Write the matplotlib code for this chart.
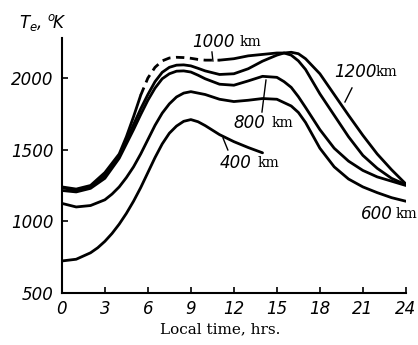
import numpy as np
import matplotlib
matplotlib.use('Agg')
import matplotlib.pyplot as plt

# Local time (hrs) and electron temperature (K)
h_400 = [0, 1, 2, 2.5, 3, 3.5, 4, 4.5, 5, 5.5, 6, 6.5, 7, 7.5, 8, 8.5, 9, 9.5, 10, 11,
         12, 13, 14]
t_400 = [723, 735, 780, 815, 860, 915, 980, 1055, 1140, 1235, 1340, 1445, 1540, 1615,
         1665, 1698, 1710, 1695, 1668, 1605, 1556, 1515, 1478]

h_600 = [0, 1, 2, 3, 3.5, 4, 4.5, 5, 5.5, 6, 6.5, 7, 7.5, 8, 8.5, 9, 10, 11, 12, 13, 14,
         15, 16, 16.5, 17, 18, 19, 20, 21, 22, 23, 24]
t_600 = [1125, 1100, 1110, 1150, 1190, 1240, 1305, 1380, 1470, 1570, 1670, 1755, 1820,
         1868, 1895, 1905, 1885, 1852, 1836, 1845, 1857, 1852, 1805, 1760, 1690, 1510,
         1380, 1295, 1240, 1200, 1165, 1140]

h_top = [0, 1, 2, 3, 4, 4.5, 5, 5.5, 6, 6.5, 7, 7.5, 8, 8.5, 9, 9.5, 10, 11, 12, 13, 14,
         15, 15.5, 16, 16.5, 17, 18, 19, 20, 21, 22, 23, 24]
t_800 = [1215, 1205, 1230, 1300, 1440, 1540, 1640, 1745, 1845, 1930, 1995, 2030, 2048,
         2050, 2042, 2020, 1995, 1957, 1950, 1980, 2012, 2005, 1975, 1935, 1870, 1795,
         1640, 1510, 1420, 1355, 1310, 1280, 1250]
t_1000 = [1240, 1225, 1250, 1340, 1470, 1590, 1730, 1880, 2000, 2075, 2120, 2140, 2145,
          2143, 2138, 2130, 2125, 2125, 2135, 2155, 2165, 2175, 2175, 2160, 2120, 2060,
          1890, 1740, 1590, 1460, 1370, 1300, 1255]
t_1200 = [1235, 1215, 1240, 1320, 1460, 1565, 1675, 1785, 1885, 1975, 2040, 2075, 2090,
          2092, 2085, 2068, 2050, 2025, 2030, 2065, 2118, 2160, 2175, 2180, 2170, 2135,
          2030, 1885, 1740, 1600, 1470, 1360, 1260]

x_ticks = [0, 3, 6, 9, 12, 15, 18, 21, 24]
y_ticks = [500, 1000, 1500, 2000]

fig = plt.figure(figsize=(4.18, 3.45), dpi=100)
ax = fig.add_axes([0.148, 0.151, 0.823, 0.739])

lw = 2.0
kw = dict(color='black', lw=lw, solid_capstyle='round', solid_joinstyle='round')
ax.plot(h_400, t_400, **kw)
ax.plot(h_600, t_600, **kw)
ax.plot(h_top, t_800, **kw)
ax.plot(h_top, t_1200, **kw)
# 1000 km: dashed between 5.5 and 11 hrs (extrapolated)
i0, i1 = h_top.index(5.5), h_top.index(11)
ax.plot(h_top[:i0 + 1], t_1000[:i0 + 1], **kw)
ax.plot(h_top[i0:i1 + 1], t_1000[i0:i1 + 1], color='black', lw=lw, ls=(0, (3, 2)))
ax.plot(h_top[i1:], t_1000[i1:], **kw)

ax.set_xlim(0, 24)
ax.set_ylim(500, 2280)
ax.set_xticks(x_ticks)
ax.set_yticks(y_ticks)
ax.set_xticklabels([str(v) for v in x_ticks], fontsize=12, fontstyle='italic')
ax.set_yticklabels([str(v) for v in y_ticks], fontsize=12, fontstyle='italic')
ax.tick_params(direction='in', length=4, width=1.2, pad=5)
ax.tick_params(axis='y', pad=6)
for s in ['top', 'right']:
    ax.spines[s].set_visible(False)
for s in ['left', 'bottom']:
    ax.spines[s].set_linewidth(1.5)

fig.text(0.045, 0.935, r'$T_e$, $^o\!K$', fontsize=12, fontstyle='italic', ha='left', va='center')
fig.text(0.527, 0.045, 'Local time, hrs.', fontsize=11, family='DejaVu Serif', ha='center', va='center')

# curve labels: italic number + serif "km"
labels = [('1000', 10.6, 2252, 240), ('1200', 20.45, 2042, 376), ('800', 13.1, 1686, 272),
          ('400', 12.1, 1407, 258), ('600', 22.0, 1051, 396)]
for num, hx, ty, km_px in labels:
    ax.text(hx, ty, num, fontsize=12, fontstyle='italic', ha='center', va='center')
    ax.text((km_px - 62) / 14.33, ty, 'km', fontsize=10, family='DejaVu Serif',
            ha='left', va='center')

leaders = [((10.47, 10.54), (2182, 2119)), ((20.24, 19.75), (1931, 1833)),
           ((13.96, 14.24), (1763, 1986)), ((11.58, 11.24), (1498, 1582))]
for lx, ly in leaders:
    ax.plot(lx, ly, color='black', lw=1)

fig.savefig('out.png', dpi=100)
